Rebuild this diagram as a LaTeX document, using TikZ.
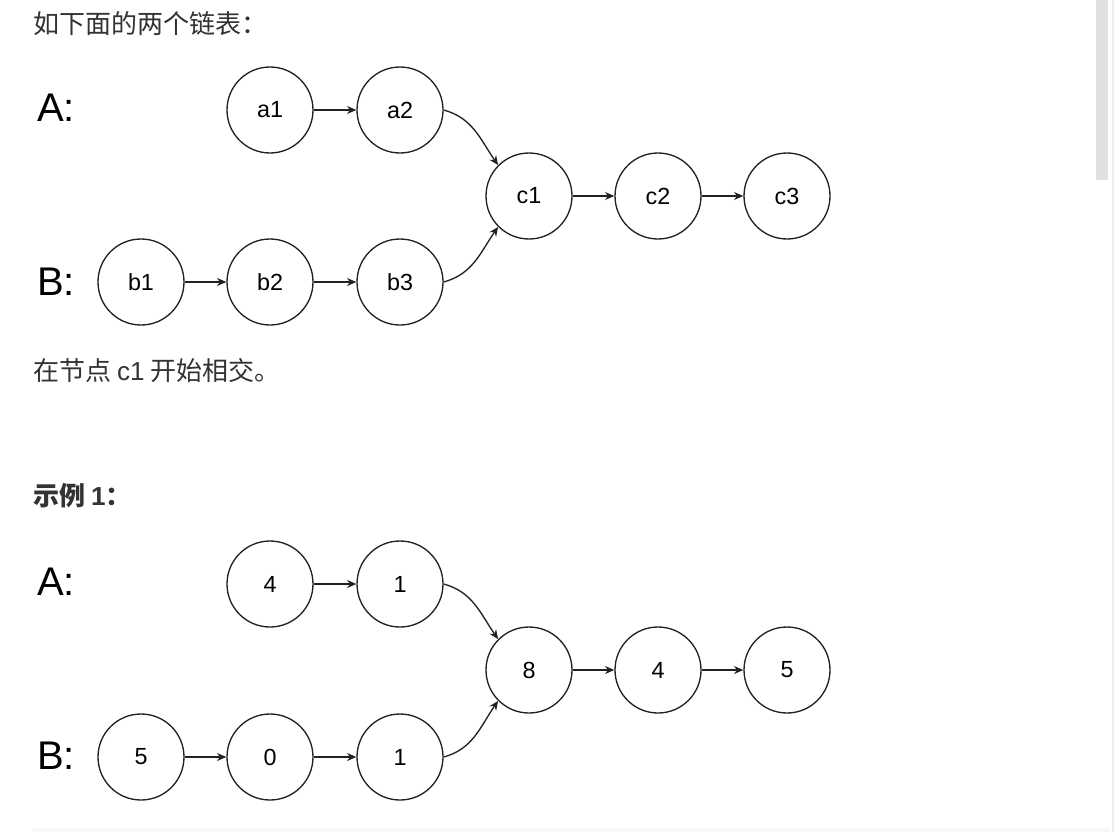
\documentclass[tikz,border=0pt]{standalone}
\usepackage{fontspec}
\setmainfont{Liberation Sans}
\newfontfamily\cjk{Noto Sans CJK SC}
\usetikzlibrary{arrows.meta}
\definecolor{textdark}{RGB}{51, 51, 51}
\definecolor{linedark}{RGB}{34, 34, 34}
\definecolor{scrollgray}{RGB}{224, 224, 224}
\definecolor{trackgray}{RGB}{238, 238, 238}
\definecolor{codebg}{RGB}{246, 248, 250}

\begin{document}
\begin{tikzpicture}[x=0.75pt, y=-0.75pt,
    listnode/.style={draw=linedark, line width=1pt, circle, minimum size=64.5pt, inner sep=0pt, font=\fontsize{17.5}{20}\selectfont},
    nextarrow/.style={draw=linedark, line width=1pt, -{Stealth[length=7pt, width=6pt]}},
    headlabel/.style={anchor=west, inner sep=0pt, font=\fontsize{30}{34}\selectfont},
    para/.style={anchor=west, inner sep=0pt, text=textdark, font=\cjk\fontsize{19.5}{23}\selectfont}]
    \useasboundingbox (0,0) rectangle (1116,832);
    \fill[white] (0,0) rectangle (1116,832);
    \fill[trackgray] (1112,0) rectangle (1114,832);
    \fill[scrollgray] (1096,0) rectangle (1108,180);
    \fill[codebg] (33,828) rectangle (1110,832);

    % first example: letters
    \node[para] (intro) at (33,24) {如下面的两个链表：};
    \node[headlabel] (la) at (37,108) {A:};
    \node[headlabel] (lb) at (37,282) {B:};
    \node[listnode] (a1) at (270,110) {a1};
    \node[listnode] (a2) at (400,110) {a2};
    \node[listnode] (c1) at (529,196) {c1};
    \node[listnode] (c2) at (658,196) {c2};
    \node[listnode] (c3) at (787,196) {c3};
    \node[listnode] (b1) at (141,282) {b1};
    \node[listnode] (b2) at (270,282) {b2};
    \node[listnode] (b3) at (400,282) {b3};
    \draw[nextarrow] (a1) -- (a2);
    \draw[nextarrow] (b1) -- (b2);
    \draw[nextarrow] (b2) -- (b3);
    \draw[nextarrow] (c1) -- (c2);
    \draw[nextarrow] (c2) -- (c3);
    \draw[nextarrow] (a2.east) to[out=-15, in=125] (c1.135);
    \draw[nextarrow] (b3.east) to[out=15, in=-125] (c1.225);
    \node[para] (meet) at (33,371) {在节点 {\rmfamily c1} 开始相交。};

    % second example: numbers
    \node[para, font=\cjk\bfseries\fontsize{19.5}{23}\selectfont] (ex1) at (33,496) {示例 {\rmfamily\bfseries 1}：};
    \node[headlabel] (la2) at (37,582) {A:};
    \node[headlabel] (lb2) at (37,756) {B:};
    \node[listnode] (p1) at (270,584) {4};
    \node[listnode] (p2) at (400,584) {1};
    \node[listnode] (r1) at (529,670) {8};
    \node[listnode] (r2) at (658,670) {4};
    \node[listnode] (r3) at (787,670) {5};
    \node[listnode] (q1) at (141,757) {5};
    \node[listnode] (q2) at (270,757) {0};
    \node[listnode] (q3) at (400,757) {1};
    \draw[nextarrow] (p1) -- (p2);
    \draw[nextarrow] (q1) -- (q2);
    \draw[nextarrow] (q2) -- (q3);
    \draw[nextarrow] (r1) -- (r2);
    \draw[nextarrow] (r2) -- (r3);
    \draw[nextarrow] (p2.east) to[out=-15, in=125] (r1.135);
    \draw[nextarrow] (q3.east) to[out=15, in=-125] (r1.225);
\end{tikzpicture}
\end{document}
